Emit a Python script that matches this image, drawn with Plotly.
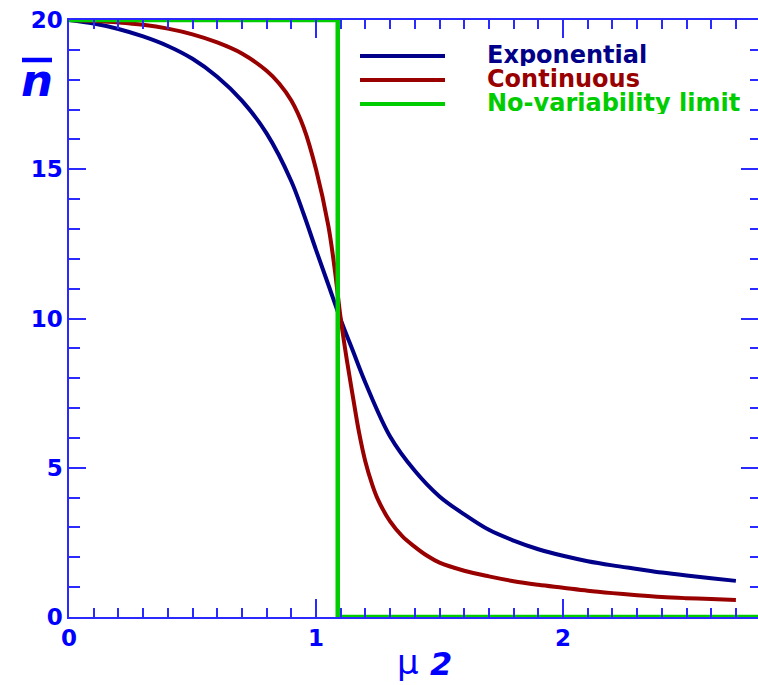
import plotly.graph_objects as go

# ---------------- data ----------------
mu2_exponential = [0.0, 0.1, 0.2, 0.3, 0.4, 0.5, 0.6, 0.7, 0.8, 0.9, 0.95, 1.0, 1.05,
                   1.1, 1.15, 1.2, 1.3, 1.4, 1.5, 1.6, 1.7, 1.8, 1.9, 2.0, 2.1, 2.2,
                   2.3, 2.4, 2.5, 2.6, 2.7]
n_exponential = [20.0, 19.88, 19.7, 19.45, 19.13, 18.7, 18.1, 17.3, 16.2, 14.6, 13.5,
                 12.3, 11.13, 9.96, 8.9, 7.85, 6.05, 4.9, 4.04, 3.44, 2.92, 2.56, 2.27,
                 2.05, 1.87, 1.73, 1.61, 1.49, 1.39, 1.30, 1.21]

mu2_continuous = [0.0, 0.1, 0.2, 0.3, 0.4, 0.5, 0.6, 0.7, 0.8, 0.85, 0.9, 0.95, 1.0,
                  1.05, 1.075, 1.1, 1.125, 1.15, 1.175, 1.2, 1.225, 1.25, 1.3, 1.35,
                  1.4, 1.45, 1.5, 1.6, 1.7, 1.8, 1.9, 2.0, 2.1, 2.2, 2.3, 2.4, 2.5,
                  2.6, 2.7]
n_continuous = [20.0, 19.97, 19.92, 19.84, 19.71, 19.52, 19.25, 18.88, 18.3, 17.88, 17.3,
                16.4, 15.0, 13.1, 11.7, 10.0, 8.6, 7.35, 6.15, 5.2, 4.5, 3.95, 3.2, 2.7,
                2.35, 2.05, 1.82, 1.55, 1.36, 1.2, 1.08, 0.98, 0.88, 0.8, 0.73, 0.67,
                0.63, 0.6, 0.57]

mu2_limit = [0.0, 1.088, 1.088, 2.8]
n_limit = [20.0, 20.0, 0.0, 0.0]

series_names = ["Exponential", "Continuous", "No-variability limit"]
series_colors = ["#000088", "#990000", "#00cc00"]

x_tickvals = [0, 1, 2]
x_ticktext = ["0", "1", "2"]
y_tickvals = [0, 5, 10, 15, 20]
y_ticktext = ["0", "5", "10", "15", "20"]

# ---------------- layout geometry ----------------
W, H = 758, 685
ML, MR, MT, MB = 69, 0, 20, 68
PW, PH = W - ML - MR, H - MT - MB


def px(x):
    return (x - ML) / PW


def py(y):
    return (H - MB - y) / PH


AXIS = "#2a2aff"
LABEL = "#0000ff"
FONT = "DejaVu Sans"

fig = go.Figure()
for xs, ys, name, col in [
    (mu2_exponential, n_exponential, series_names[0], series_colors[0]),
    (mu2_continuous, n_continuous, series_names[1], series_colors[1]),
]:
    fig.add_trace(go.Scatter(x=xs, y=ys, mode="lines", name=name,
                             line=dict(color=col, width=4, shape="spline", smoothing=1.0),
                             showlegend=False))
fig.add_trace(go.Scatter(x=mu2_limit, y=n_limit, mode="lines", name=series_names[2],
                         line=dict(color=series_colors[2], width=4.5), showlegend=False))
# helper trace so the right-hand tick axis is drawn
fig.add_trace(go.Scatter(x=[None], y=[None], yaxis="y2", showlegend=False, hoverinfo="skip"))

fig.update_layout(
    width=W, height=H,
    margin=dict(l=ML, r=MR, t=MT, b=MB),
    paper_bgcolor="white", plot_bgcolor="white",
    font=dict(family=FONT, color=LABEL),
)
fig.update_xaxes(
    range=[0, PW / 247.0], showgrid=False, zeroline=False,
    showline=True, linecolor=AXIS, linewidth=1.5, mirror="ticks",
    ticks="inside", ticklen=18, tickwidth=1.5, tickcolor=AXIS,
    tickvals=x_tickvals, ticktext=x_ticktext,
    tickfont=dict(family=FONT, size=23, color=LABEL, weight="bold"),
    minor=dict(dtick=0.1, ticks="inside", ticklen=9, tickwidth=1.5, tickcolor=AXIS, showgrid=False),
)
fig.update_layout(
    yaxis=dict(
        range=[0, 20], showgrid=False, zeroline=False,
        showline=True, linecolor=AXIS, linewidth=1.5, mirror=False,
        ticks="inside", ticklen=17, tickwidth=1.5, tickcolor=AXIS,
        tickvals=y_tickvals, ticktext=y_ticktext,
        tickfont=dict(family=FONT, size=23, color=LABEL, weight="bold"),
        minor=dict(dtick=1, ticks="inside", ticklen=11, tickwidth=1.5, tickcolor=AXIS, showgrid=False),
    ),
    yaxis2=dict(
        overlaying="y", side="right", anchor="x",
        range=[0, 20], showgrid=False, zeroline=False, showline=False,
        ticks="inside", ticklen=17, tickwidth=1.5, tickcolor=AXIS,
        tickvals=y_tickvals, showticklabels=False,
        minor=dict(dtick=1, ticks="inside", ticklen=8, tickwidth=1.5, tickcolor=AXIS, showgrid=False),
    ),
)

# axis titles
fig.add_annotation(x=px(37), y=py(80), xref="paper", yref="paper", text="<b><i>n</i></b>",
                   showarrow=False, font=dict(family=FONT, size=45, color=LABEL),
                   xanchor="center", yanchor="middle")
fig.add_shape(type="line", xref="paper", yref="paper", x0=px(22), x1=px(52), y0=py(60), y1=py(60),
              line=dict(color=LABEL, width=4.5))
fig.add_annotation(x=px(408), y=py(684), xref="paper", yref="paper", text="μ",
                   showarrow=False, font=dict(family=FONT, size=34, color=LABEL),
                   xanchor="center", yanchor="bottom")
fig.add_annotation(x=px(441), y=py(685), xref="paper", yref="paper", text="<b><i>2</i></b>",
                   showarrow=False, font=dict(family=FONT, size=32, color=LABEL),
                   xanchor="center", yanchor="bottom")

# legend (manual, to match the long line samples)
legend_y = [56, 80, 104]
for name, col, yy in zip(series_names, series_colors, legend_y):
    fig.add_shape(type="line", xref="paper", yref="paper", x0=px(360), x1=px(445),
                  y0=py(yy), y1=py(yy), line=dict(color=col, width=4))
    fig.add_annotation(x=px(486), y=py(yy - 1), xref="paper", yref="paper", text="<b>%s</b>" % name,
                       showarrow=False, font=dict(family=FONT, size=24, color=col),
                       xanchor="left", yanchor="middle", height=22, borderpad=0, valign="middle")

fig.write_html("out.html")
